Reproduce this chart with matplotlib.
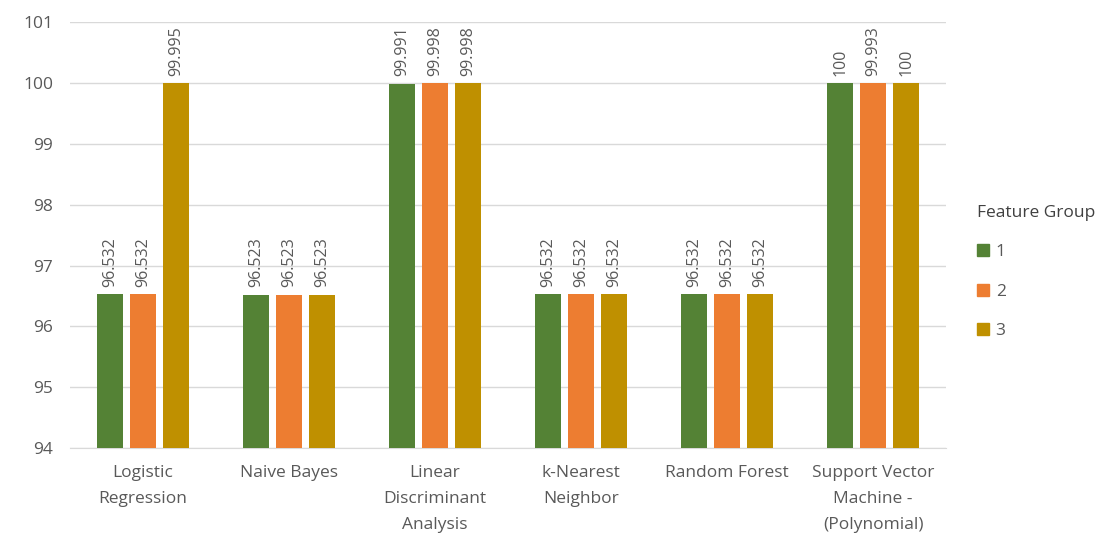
import numpy as np
import matplotlib.pyplot as plt
from matplotlib.patches import Patch

categories = ["Logistic\nRegression", "Naive Bayes", "Linear\nDiscriminant\nAnalysis",
              "k-Nearest\nNeighbor", "Random Forest", "Support Vector\nMachine -\n(Polynomial)"]
group1 = [96.532, 96.523, 99.991, 96.532, 96.532, 100]
group2 = [96.532, 96.523, 99.998, 96.532, 96.532, 99.993]
group3 = [99.995, 96.523, 99.998, 96.532, 96.532, 100]
labels1 = ["96.532", "96.523", "99.991", "96.532", "96.532", "100"]
labels2 = ["96.532", "96.523", "99.998", "96.532", "96.532", "99.993"]
labels3 = ["99.995", "96.523", "99.998", "96.532", "96.532", "100"]
series_names = ["1", "2", "3"]
colors = ["#548235", "#ED7D31", "#BF9000"]
text_col = "#595959"

plt.rcParams['font.family'] = ['Open Sans', 'DejaVu Sans']

fig = plt.figure(figsize=(11.02, 5.4), dpi=100)
ax = fig.add_axes([0.0635, 0.17, 0.795, 0.789])

x = np.arange(len(categories))
w = 0.175
step = 0.226
bottom = 94
for i, (vals, labs) in enumerate(zip([group1, group2, group3], [labels1, labels2, labels3])):
    pos = x + (i - 1) * step
    heights = [v - bottom for v in vals]
    ax.bar(pos, heights, w, bottom=bottom, color=colors[i], zorder=3)
    for p, v, l in zip(pos, vals, labs):
        ax.text(p, v + 0.12, l, rotation=90, ha='center', va='bottom',
                fontsize=11.5, color=text_col)

ax.set_ylim(94, 101)
ax.set_xlim(-0.5, len(categories) - 0.5)
ax.set_yticks(range(94, 102))
ax.yaxis.grid(True, color="#d9d9d9", linewidth=1, zorder=0)
ax.set_xticks(x)
ax.set_xticklabels(categories, fontsize=12.5, color=text_col, linespacing=1.85)
ax.tick_params(axis='both', length=0, colors=text_col)
ax.tick_params(axis='y', labelsize=12.5, pad=12)
ax.tick_params(axis='x', pad=12)
for s in ["top", "right", "left"]:
    ax.spines[s].set_visible(False)
ax.spines["bottom"].set_color("#d9d9d9")

handles = [Patch(color=c, label=n) for c, n in zip(colors, series_names)]
leg = fig.legend(handles=handles, title="Feature Group", loc='upper left',
                 bbox_to_anchor=(0.872, 0.65), frameon=False, fontsize=12.5,
                 title_fontsize=12.5, handlelength=0.7, handleheight=0.7,
                 handletextpad=0.4, labelspacing=1.35, alignment='left')
plt.setp(leg.get_texts(), color=text_col)
leg.get_title().set_color("#404040")

fig.savefig("out.png", dpi=100, facecolor="white")
